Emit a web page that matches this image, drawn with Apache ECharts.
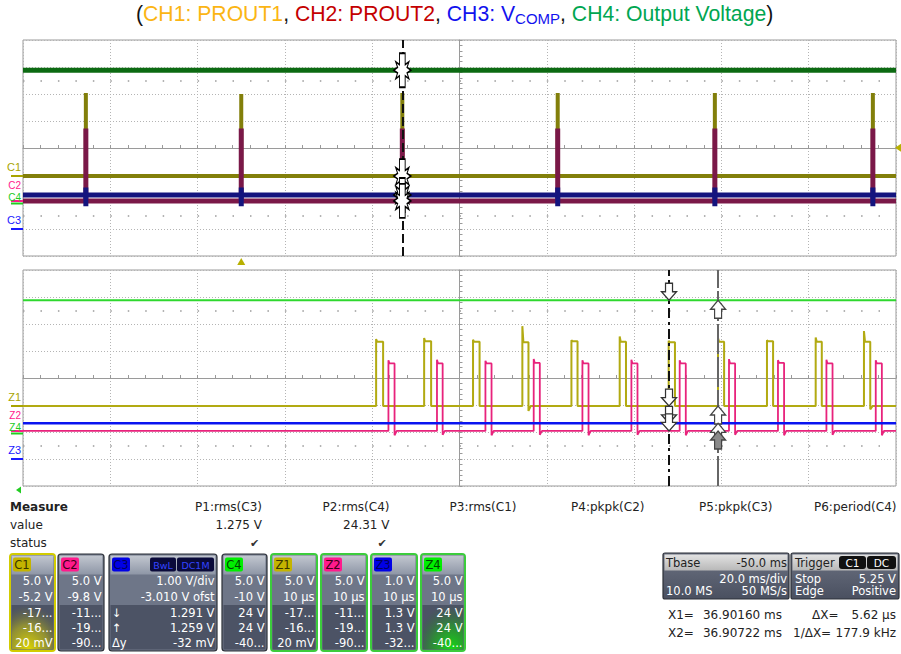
<!DOCTYPE html>
<html><head><meta charset="utf-8">
<script src="https://cdn.jsdelivr.net/npm/echarts@6/dist/echarts.min.js"></script>
<style>html,body{margin:0;padding:0;background:#fff;}#c{width:901px;height:654px;}</style>
</head><body><div id="c"></div>
<script>
// ================= DATA =================
const channelNames = ['C1', 'C2', 'C3', 'C4'];
const zoomNames = ['Z1', 'Z2', 'Z3', 'Z4'];
const channelColors = ['#a8a400', '#ff1a8c', '#1a1aff', '#22cc22'];
const voltsPerDiv = [5, 5, 1, 5];
const offsetVolts = [-5.2, -9.8, -3.01, -10];

// Top panel: 20 ms/div, trigger delay -50 ms
const topWindowMs = [-50, 150];
const topMsPerDiv = 20;
const spikeTimesMs = [-35.6, 0, 36.9, 72.5, 108.5, 144.7];
const c1SpikePeakV = [15.4, 15.2, 15.4, 15.4, 15.4, 15.4];
const c2SpikePeakV = [13.4, 13.4, 13.4, 13.4, 13.4, 13.4];
const c3BlipHighV = [1.55, 1.55, 1.55, 1.55, 1.55, 1.55];
const c3BlipLowV = [0.85, 0.85, 0.85, 0.85, 0.85, 0.85];
const topLevelsV = [0, 0, 1.27, 24.4];      // C1..C4 DC levels

// Bottom panel (zoom): 10 us/div
const zoomWindowUs = [0, 100];
const zoomUsPerDiv = 10;
const zoomLeftMs = 36.8276;
const zoomLevelsV = [0, 0, 1.33, 24.4];     // Z1..Z4 DC levels
const z1PulseStartUs = [40.45, 45.95, 51.55, 57.2, 62.82, 68.35, 73.96, 79.61, 85.22, 90.8, 96.33];
const z1PulseWidthUs = [0.8, 0.8, 0.75, 0.7, 0.7, 0.72, 0.72, 0.7, 0.7, 0.7, 0.72];
const z1PulseTopV = [11.9, 12.0, 11.9, 11.8, 12.0, 11.9, 11.8, 11.9, 12.0, 11.9, 11.9];
const z1PulsePeakV = [12.4, 12.6, 12.3, 14.8, 12.2, 12.9, 12.1, 12.6, 12.2, 12.7, 13.9];
const z1UnderV = [0, 0, 0, -0.9, 0, 0, 0, 0, 0, 0, -0.6];
const z2PulseStartUs = [41.86, 47.42, 52.97, 58.5, 64.08, 69.69, 75.22, 80.87, 86.48, 92.03, 97.68];
const z2PulseWidthUs = [0.7, 0.65, 0.7, 0.7, 0.7, 0.7, 0.7, 0.7, 0.7, 0.7, 0.7];
const z2PulseTopV = [12.5, 12.5, 12.5, 12.6, 12.5, 12.5, 12.5, 12.5, 12.6, 12.5, 12.5];
const z2PulsePeakV = [13.1, 13.2, 13.0, 13.3, 13.1, 13.2, 13.1, 13.3, 13.1, 13.2, 13.1];
const z2UnderV = [-0.8, -0.7, -0.8, -0.7, -0.8, -0.7, -0.8, -0.7, -0.8, -0.7, -0.8];

// Cursors
const cursorMs = [36.90160, 36.90722];

// Measurement texts
const measureLabels = ['P1:rms(C3)', 'P2:rms(C4)', 'P3:rms(C1)', 'P4:pkpk(C2)', 'P5:pkpk(C3)', 'P6:period(C4)'];
const measureValues = ['1.275 V', '24.31 V', '', '', '', ''];
const measureStatus = ['\u2714', '\u2714', '', '', '', ''];
const boxNames = ['C1', 'C2', 'C3', 'C4', 'Z1', 'Z2', 'Z3', 'Z4'];
const boxRows = [
  ['5.0 V', '-5.2 V', '-17...', '-16...', '20 mV'],
  ['5.0 V', '-9.8 V', '-11...', '-19...', '-90...'],
  ['1.00 V/div', '-3.010 V ofst', '1.291 V', '1.259 V', '-32 mV'],
  ['5.0 V', '-10 V', '24 V', '24 V', '-40...'],
  ['5.0 V', '10 \u00b5s', '-17...', '-16...', '20 mV'],
  ['5.0 V', '10 \u00b5s', '-11...', '-19...', '-90...'],
  ['1.0 V', '10 \u00b5s', '1.3 V', '1.3 V', '-32...'],
  ['5.0 V', '10 \u00b5s', '24 V', '24 V', '-40...']
];
const tbaseTexts = ['Tbase', '-50.0 ms', '20.0 ms/div', '10.0 MS', '50 MS/s'];
const triggerTexts = ['Trigger', 'C1', 'DC', 'Stop', '5.25 V', 'Edge', 'Positive'];
const cursorTexts = ['X1=', '36.90160 ms', '\u0394X=', '5.62 \u00b5s', 'X2=', '36.90722 ms', '1/\u0394X=', '177.9 kHz'];

// ================= CHART =================
const FONT = 'DejaVu Sans';
const chart = echarts.init(document.getElementById('c'), null, {renderer: 'svg', width: 901, height: 654});
function dv(v, ch) { return (v + offsetVolts[ch]) / voltsPerDiv[ch]; }
const topCenter = (topWindowMs[0] + topWindowMs[1]) / 2;
const topHalf = (topWindowMs[1] - topWindowMs[0]) / 2;
const zCenter = (zoomWindowUs[0] + zoomWindowUs[1]) / 2;
const zHalf = (zoomWindowUs[1] - zoomWindowUs[0]) / 2;

function flat(level, ch, half) { const b = dv(level, ch); return [[-half, b], [half, b]]; }
function spikeTrace(ch, peaks) {
  const b = dv(topLevelsV[ch], ch);
  const pts = [[-topHalf, b]];
  spikeTimesMs.forEach((t, i) => { const x = t - topCenter; pts.push([x, b], [x, dv(peaks[i], ch)], [x, b]); });
  pts.push([topHalf, b]);
  return pts;
}
function blipTrace(ch) {
  const b = dv(topLevelsV[ch], ch);
  const pts = [[-topHalf, b]];
  spikeTimesMs.forEach((t, i) => { const x = t - topCenter; pts.push([x, b], [x, dv(c3BlipHighV[i], ch)], [x, dv(c3BlipLowV[i], ch)], [x, b]); });
  pts.push([topHalf, b]);
  return pts;
}
function pulseTrace(ch, starts, widths, tops, peaks, unders) {
  const b = dv(zoomLevelsV[ch], ch);
  const pts = [[-zHalf, b]];
  starts.forEach((s, i) => {
    const x = s - zCenter, w = widths[i];
    pts.push([x, b], [x, dv(peaks[i], ch)], [x + 0.12, dv(tops[i], ch)], [x + w, dv(tops[i], ch)],
             [x + w, dv(unders[i], ch)], [x + w + 0.25, b]);
  });
  pts.push([zHalf, b]);
  return pts;
}

function xAxisDef(grid, half, step) {
  return {
    type: 'value', gridIndex: grid, min: -half, max: half, interval: step,
    axisLine: {show: true, onZero: true, lineStyle: {color: '#9a9a9a', width: 1}},
    axisTick: {show: true, inside: true, length: 3, lineStyle: {color: '#9a9a9a'}},
    minorTick: {show: true, splitNumber: 5, length: 3, lineStyle: {color: '#9a9a9a'}},
    axisLabel: {show: false},
    splitLine: {show: true, lineStyle: {color: '#b4b4b4', type: [1, 2], width: 1}}
  };
}
function yAxisDef(grid) {
  return {
    type: 'value', gridIndex: grid, min: -4, max: 4, interval: 1,
    axisLine: {show: true, onZero: true, lineStyle: {color: '#9a9a9a', width: 1}},
    axisTick: {show: true, inside: true, length: 3, lineStyle: {color: '#9a9a9a'}},
    minorTick: {show: true, splitNumber: 5, length: 3, lineStyle: {color: '#9a9a9a'}},
    axisLabel: {show: false},
    splitLine: {show: true, lineStyle: {color: '#b4b4b4', type: [1, 2], width: 1}}
  };
}
function line(gi, data, color, width, z) {
  return {type: 'line', xAxisIndex: gi, yAxisIndex: gi, data, symbol: 'none', showSymbol: false, z,
          animation: false, silent: true, lineStyle: {color, width, join: 'bevel', cap: 'butt'}};
}
const dotRow = {color: '#9a9a9a', width: 1.5, type: [1.5, 15.96]};
function helper(gi, z, markData) {
  return {type: 'line', xAxisIndex: gi, yAxisIndex: gi, data: [[0, 0]], symbol: 'none', z, silent: true,
          lineStyle: {width: 0}, animation: false,
          markLine: {silent: true, symbol: ['none', 'none'], label: {show: false}, animation: false, data: markData}};
}
const STAR = 'path://M-3,-18 L3,-18 L3,-6 L7,-9 L5,-3 L9,0 L5,3 L7,9 L3,6 L3,18 L-3,18 L-3,6 L-7,9 L-5,3 L-9,0 L-5,-3 L-7,-9 L-3,-6 Z';
const DOWN = 'path://M-3.5,0 L3.5,0 L3.5,9 L7.5,9 L0,18 L-7.5,9 L-3.5,9 Z';
const UP = 'path://M0,0 L7.5,9 L3.5,9 L3.5,18 L-3.5,18 L-3.5,9 L-7.5,9 Z';

const topCursorX = cursorMs[0] - topCenter;
const zCursorX = cursorMs.map(c => (c - zoomLeftMs) * 1000 - zCenter);
const order = [3, 0, 2, 1];

const titleFont = {fontSize: 21.2, fontFamily: 'Liberation Sans', fontWeight: 'normal', lineHeight: 24};
const option = {
  animation: false,
  backgroundColor: '#ffffff',
  title: {
    left: 131, top: -3.5,
    text: '{k|(}{y|CH1: PROUT1}{k|, }{r|CH2: PROUT2}{k|, }{b|CH3: V}{bs|COMP}{k|, }{g|CH4: Output Voltage}{k|)}',
    textStyle: {fontWeight: 'normal', rich: {
      k: Object.assign({color: '#111'}, titleFont),
      y: Object.assign({color: '#fbb514'}, titleFont),
      r: Object.assign({color: '#c40000'}, titleFont),
      b: Object.assign({color: '#1212ee'}, titleFont),
      bs: {color: '#1212ee', fontSize: 15, fontFamily: 'Liberation Sans', fontWeight: 'normal', lineHeight: 12, verticalAlign: 'bottom'},
      g: Object.assign({color: '#00a651'}, titleFont)
    }}
  },
  grid: [
    {left: 23, top: 40, width: 873, height: 216, show: true, borderColor: '#9a9a9a', borderWidth: 1, containLabel: false, outerBoundsMode: 'none'},
    {left: 23, top: 270, width: 873, height: 216, show: true, borderColor: '#9a9a9a', borderWidth: 1, containLabel: false, outerBoundsMode: 'none'}
  ],
  xAxis: [xAxisDef(0, topHalf, topMsPerDiv), xAxisDef(1, zHalf, zoomUsPerDiv)],
  yAxis: [yAxisDef(0), yAxisDef(1)],
  series: [
    helper(0, 1, [{yAxis: 2.5, lineStyle: dotRow}, {yAxis: -2.5, lineStyle: dotRow}]),
    helper(1, 1, [{yAxis: 2.5, lineStyle: dotRow}, {yAxis: -2.5, lineStyle: dotRow}]),
    // top panel
    line(0, flat(topLevelsV[3], 3, topHalf), '#0c6a12', 5, 2),
    line(0, spikeTrace(0, c1SpikePeakV), '#827f0a', 4, 3),
    line(0, spikeTrace(1, c2SpikePeakV), '#7a1848', 5, 4),
    line(0, blipTrace(2), '#14147e', 5, 5),
    // bottom panel
    line(1, flat(zoomLevelsV[3], 3, zHalf), '#2ed82e', 2, 2),
    line(1, pulseTrace(0, z1PulseStartUs, z1PulseWidthUs, z1PulseTopV, z1PulsePeakV, z1UnderV), '#b2aa12', 2, 3),
    line(1, pulseTrace(1, z2PulseStartUs, z2PulseWidthUs, z2PulseTopV, z2PulsePeakV, z2UnderV), '#e8237c', 1.8, 4),
    line(1, flat(zoomLevelsV[2], 2, zHalf), '#0a14f0', 2.5, 5),
    // cursors
    helper(0, 10, [{xAxis: topCursorX, lineStyle: {color: '#111', width: 2, type: [9, 4]}}]),
    helper(1, 10, [
      {xAxis: zCursorX[0], lineStyle: {color: '#111', width: 2, type: [10, 4, 3, 4]}},
      {xAxis: zCursorX[1], lineStyle: {color: '#666', width: 2, type: [30, 3]}}
    ]),
    {type: 'scatter', xAxisIndex: 0, yAxisIndex: 0, z: 12, silent: true, animation: false,
     symbol: STAR, symbolSize: [17, 34],
     itemStyle: {color: '#ffffff', borderColor: '#000', borderWidth: 1.3, opacity: 1},
     data: order.map(ch => [topCursorX, dv(topLevelsV[ch], ch)])},
    {type: 'scatter', xAxisIndex: 1, yAxisIndex: 1, z: 12, silent: true, animation: false,
     symbol: DOWN, symbolSize: [15, 17], symbolOffset: [0, -8.5],
     itemStyle: {color: '#ffffff', borderColor: '#333', borderWidth: 1.3, opacity: 1},
     data: order.map(ch => [zCursorX[0], dv(zoomLevelsV[ch], ch)])},
    {type: 'scatter', xAxisIndex: 1, yAxisIndex: 1, z: 12, silent: true, animation: false,
     symbol: UP, symbolSize: [15, 18], symbolOffset: [0, 9],
     itemStyle: {borderColor: '#444', borderWidth: 1.3, opacity: 1},
     data: order.map((ch, i) => ({value: [zCursorX[1], dv(zoomLevelsV[ch], ch)],
       itemStyle: {color: i === 3 ? '#8a8a8a' : '#ffffff'}}))}
  ]
};
chart.setOption(option);

// ================= DECORATIONS / TEXT =================
function T(text, x, y, o) {
  o = o || {};
  const al = o.align || 'left', va = o.va || 'middle';
  return {type: 'text', silent: true, z: o.z || 100,
    style: {text, x, y, fill: o.fill || '#222', font: (o.weight || 'normal') + ' ' + (o.size || 12) + 'px ' + (o.family || FONT),
            align: al, verticalAlign: va, textAlign: al, textVerticalAlign: va}};
}
function R(x, y, w, h, o) {
  o = o || {};
  return {type: 'rect', silent: true, z: o.z || 90, shape: {x, y, width: w, height: h, r: o.r || 0},
    style: {fill: o.fill || 'none', stroke: o.stroke || null, lineWidth: o.lw || 0}};
}
function P(points, fill, z) {
  return {type: 'polygon', silent: true, z: z || 95, shape: {points}, style: {fill}};
}
const g = [];
function px(gi, x, y) { return chart.convertToPixel({gridIndex: gi}, [x, y]); }

// channel ground labels (label above its ground marker; C2/Z2 nudged up so it sits above C4/Z4)
const labelLift = [9, 16, 9, 6];
const labelSize = [11, 10, 11, 10];
function groundLabels(gi, names, drawOrder) {
  drawOrder.forEach(ch => {
    const p = px(gi, 0, dv(0, ch));
    const yy = Math.round(p[1]) + (ch === 3 ? 1.5 : 0);
    g.push(T(names[ch], 21, yy - labelLift[ch], {align: 'right', fill: channelColors[ch], size: labelSize[ch], family: 'Liberation Sans'}));
    g.push(R(11, yy - 1, 12, 2, {fill: channelColors[ch], z: 96}));
  });
}
groundLabels(0, channelNames, [0, 1, 3, 2]);
groundLabels(1, zoomNames, [0, 1, 3, 2]);

// trigger markers
const trig = px(0, 0 - topCenter, -4);
g.push(P([[trig[0] - 4, trig[1] + 9], [trig[0] + 4, trig[1] + 9], [trig[0], trig[1] + 2]], '#b8b000'));
const tl = px(0, topHalf, dv(5.25, 0));
g.push(P([[tl[0] + 5, tl[1] - 4], [tl[0] + 5, tl[1] + 4], [tl[0] - 1, tl[1]]], '#b8b000'));
// green small arrow bottom-left
g.push(P([[16, 490], [21, 486.5], [21, 493.5]], '#22cc22'));

// measure table
g.push(T('Measure', 10, 507, {weight: 'bold', size: 12}));
g.push(T('value', 10, 525, {size: 12}));
g.push(T('status', 10, 543, {size: 12}));
const measRight = [262, 389.5, 516.5, 644.5, 772.5, 896.5];
measureLabels.forEach((s, i) => {
  g.push(T(s, measRight[i], 507, {align: 'right', size: 12}));
  if (measureValues[i]) g.push(T(measureValues[i], measRight[i], 525, {align: 'right', size: 12}));
  if (measureStatus[i]) g.push(T(measureStatus[i], measRight[i] - 7.5, 543, {align: 'center', size: 11, fill: '#333'}));
});

// channel boxes
const boxX = [10, 58, 109, 222, 271, 321, 371, 421];
const boxW = [45, 46, 108, 45, 46, 46, 46, 44];
const boxTag = ['#c4b400', '#ff1a8c', '#0000e6', '#00ee00', '#c4b400', '#ff1a8c', '#0000e6', '#00ee00'];
const boxTagText = ['#3a3600', '#3a0018', '#000060', '#004400', '#3a3600', '#3a0018', '#000060', '#004400'];
const boxBorder = ['#d2cc00', '#2c3038', '#2c3038', '#2c3038', '#3ccc3c', '#3ccc3c', '#3ccc3c', '#3ccc3c'];
const rowY = [581, 597, 613, 628, 643];
const headGrad = new echarts.graphic.LinearGradient(0, 0, 0, 1, [{offset: 0, color: '#c2c7d0'}, {offset: 1, color: '#8e96a6'}]);
boxNames.forEach((nm, i) => {
  const x = boxX[i], w = boxW[i], y0 = 554, h = 97;
  g.push(R(x, y0, w, h, {fill: '#6e7688', stroke: boxBorder[i], lw: (i === 0 || i >= 4) ? 2 : 1.2, r: 3, z: 90}));
  g.push(R(x + 1.5, y0 + 1.5, w - 3, 19, {fill: headGrad, z: 91}));
  g.push(R(x + 1.5, 605, w - 3, 44.5, {fill: '#4c5365', z: 91}));
  if (i === 0) g.push(R(x + 1.5, 600, w - 3, 49.5, {fill: new echarts.graphic.RadialGradient(0.4, 1, 0.9,
      [{offset: 0, color: 'rgba(222,214,0,1)'}, {offset: 0.55, color: 'rgba(190,184,20,0.6)'}, {offset: 1, color: 'rgba(120,120,40,0)'}]), z: 92}));
  if (i === 7) g.push(R(x + 1.5, 600, w - 3, 49.5, {fill: new echarts.graphic.RadialGradient(0.7, 1, 0.9,
      [{offset: 0, color: 'rgba(20,220,20,1)'}, {offset: 0.55, color: 'rgba(30,170,30,0.6)'}, {offset: 1, color: 'rgba(40,110,40,0)'}]), z: 92}));
  g.push(R(x + 3, y0 + 3.5, 18, 14, {fill: boxTag[i], r: 2, z: 93}));
  g.push(T(nm, x + 12, y0 + 11, {align: 'center', fill: boxTagText[i], size: 11.5, z: 101}));
  boxRows[i].forEach((s, r) => g.push(T(s, x + w - 2.5, rowY[r], {align: 'right', fill: '#ffffff', size: 11.5, z: 101})));
});
// C3 extras
g.push(R(150, 557.5, 26, 14, {fill: '#0a0a3a', r: 2, z: 93}));
g.push(R(177, 557.5, 37, 14, {fill: '#0a0a3a', r: 2, z: 93}));
g.push(T('BwL', 163, 565, {align: 'center', fill: '#3344ff', size: 9.5, z: 101}));
g.push(T('DC1M', 195.5, 565, {align: 'center', fill: '#3344ff', size: 9.5, z: 101}));
['\u2193', '\u2191', '\u0394y'].forEach((s, r) => g.push(T(s, 112, rowY[r + 2], {fill: '#ffffff', size: 11.5, z: 101})));

// Tbase box
const tbGrad = new echarts.graphic.LinearGradient(0, 0, 0, 1, [{offset: 0, color: '#e2e2e2'}, {offset: 1, color: '#b8b8b8'}]);
const bodyGrad = new echarts.graphic.LinearGradient(0, 0, 0, 1, [{offset: 0, color: '#6c7282'}, {offset: 1, color: '#4a5060'}]);
[[663, 126], [791, 108]].forEach(([x, w]) => {
  g.push(R(x, 553, w, 46, {fill: bodyGrad, stroke: '#2c3038', lw: 1.2, r: 2, z: 90}));
  g.push(R(x + 1.5, 554.5, w - 3, 16, {fill: tbGrad, z: 91}));
});
g.push(T(tbaseTexts[0], 666, 562.5, {size: 11.5, fill: '#222'}));
g.push(T(tbaseTexts[1], 787, 562.5, {size: 11.5, fill: '#222', align: 'right'}));
g.push(T(tbaseTexts[2], 787, 578.5, {size: 11.5, fill: '#fff', align: 'right'}));
g.push(T(tbaseTexts[3], 666, 591, {size: 11.5, fill: '#fff'}));
g.push(T(tbaseTexts[4], 787, 591, {size: 11.5, fill: '#fff', align: 'right'}));
g.push(T(triggerTexts[0], 795, 562.5, {size: 11.5, fill: '#222'}));
g.push(R(839, 556, 27, 13, {fill: '#111', r: 3, z: 93}));
g.push(R(867, 556, 29, 13, {fill: '#111', r: 3, z: 93}));
g.push(T(triggerTexts[1], 852.5, 562.5, {size: 10.5, fill: '#fff', align: 'center'}));
g.push(T(triggerTexts[2], 881.5, 562.5, {size: 10.5, fill: '#fff', align: 'center'}));
g.push(T(triggerTexts[3], 795, 578.5, {size: 11.5, fill: '#fff'}));
g.push(T(triggerTexts[4], 896, 578.5, {size: 11.5, fill: '#fff', align: 'right'}));
g.push(T(triggerTexts[5], 795, 591, {size: 11.5, fill: '#fff'}));
g.push(T(triggerTexts[6], 896, 591, {size: 11.5, fill: '#fff', align: 'right'}));

// cursor readouts
g.push(T(cursorTexts[0], 668, 615, {size: 12}));
g.push(T(cursorTexts[1], 782, 615, {size: 12, align: 'right'}));
g.push(T(cursorTexts[2], 812, 615, {size: 12}));
g.push(T(cursorTexts[3], 896, 615, {size: 12, align: 'right'}));
g.push(T(cursorTexts[4], 668, 633, {size: 12}));
g.push(T(cursorTexts[5], 782, 633, {size: 12, align: 'right'}));
g.push(T(cursorTexts[6], 793, 633, {size: 12}));
g.push(T(cursorTexts[7], 896, 633, {size: 12, align: 'right'}));

chart.setOption({graphic: {elements: g}});
</script>
</body></html>
